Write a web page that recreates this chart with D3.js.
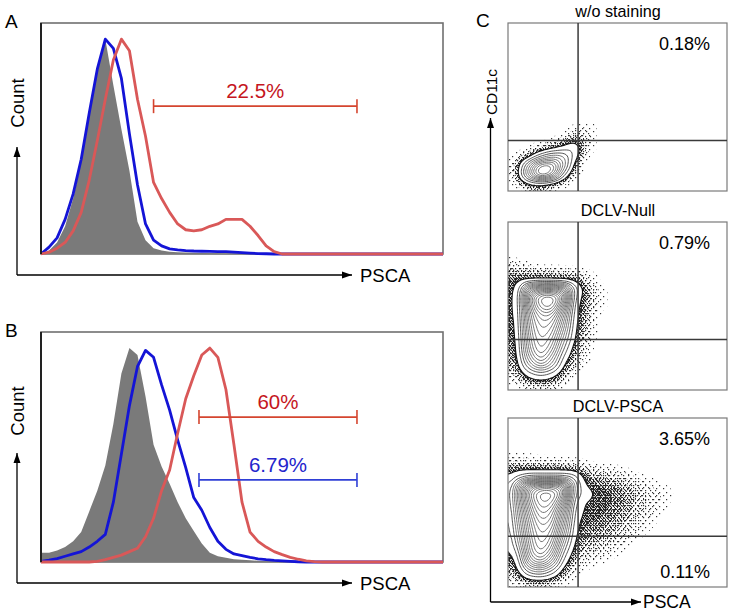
<!DOCTYPE html>
<html><head><meta charset="utf-8">
<script src="https://cdn.jsdelivr.net/npm/d3@7"></script>
<style>body{margin:0;background:#fff}svg{display:block}text{font-family:"Liberation Sans",Arial,Helvetica,sans-serif}</style>
</head><body>
<svg id="fig" width="732" height="614"></svg>
<script>
// ---------- DATA ----------
// PSCA channel (0..100), histogram counts as % of box height
const psca = d3.range(0, 101, 2);
const grayA = [0,1.5,5,12,24,40,60,79,93,73,54,36,14,6,2.5,1.5,1,0.8,0.6,0.5,0.4,0.3,0.2,0.1,0,0,0,0,0,0,0,0,0,0,0,0,0,0,0,0,0,0,0,0,0,0,0,0,0,0,0];
const blueA = [0,3,7,15,26,41,61,80,93,89,76,52,30,13,6,3.5,2.2,1.8,1.5,1.3,1.2,1.1,1,1,0.8,0.6,0.4,0.2,0.1,0,0,0,0,0,0,0,0,0,0,0,0,0,0,0,0,0,0,0,0,0,0];
const redA  = [0,0.8,2.5,5,10,18,32,49,67,84,93,88,67,51,31,24,18,13,10.5,10,10.5,12,13,15,15,15,12,8,3.5,1,0,0,0,0,0,0,0,0,0,0,0,0,0,0,0,0,0,0,0,0,0];
const grayB = [4,4,5,6.5,9,13,22,31,42,60,82,93,90,72,51,41.5,34,26,19,13.5,8,4,2.5,1.8,1.2,1,0.8,0.5,0.3,0,0,0,0,0,0,0,0,0,0,0,0,0,0,0,0,0,0,0,0,0,0];
const blueB = [0.3,0.8,1.5,2.5,3.5,4.5,6.5,9,12,26,47,68,85,92,89,77,66,53,41,28,22.5,15,9,5.5,3.5,2.8,2,1.4,1,0.7,0.5,0.3,0.1,0,0,0,0,0,0,0,0,0,0,0,0,0,0,0,0,0,0];
const redB  = [0,0,0,0,0,0,0,0.3,1,2,3,4.5,6,11,19,31,40,56,71,81,90,93,89,75,51,26,13,9,6.5,4.5,3.2,2,1.2,0.5,0.2,0,0,0,0,0,0,0,0,0,0,0,0,0,0,0,0];
// gates: [label, from, to, level, colour]
const gatesA = [["22.5%", 28, 78.6, 64, "red"]];
const gatesB = [["60%", 39.3, 78.6, 63, "red"], ["6.79%", 39.3, 78.6, 35.7, "blue"]];

// Panel C: density level grids (rows listed top = high CD11c down to 0), step 5 units
const gridNoStain = [
 [0,0,0,0,0,0,0,0.15,0],
 [0,0,0,0,0,0,0.3,0.35,0.1],
 [0,0,0,0,0.1,0.35,0.85,0.45,0],
 [0,0,0.15,0.45,0.85,1.4,1.8,0.35,0],
 [0,0.25,0.85,2.5,4,3.6,1.4,0.1,0],
 [0,0.65,4,8,8,4,0.65,0,0],
 [0,0.75,5,9,7,2,0.25,0,0],
 [0,0.35,1.1,1.3,0.8,0.25,0,0,0],
 [0,0,0.25,0.35,0.15,0,0,0,0]
];
const gridNull = [
 [0,0,0,0,0,0,0,0,0,0],
 [0.35,0.2,0.08,0,0,0,0,0,0,0],
 [0.65,0.6,0.55,0.5,0.45,0.4,0.35,0.18,0.05,0],
 [0.8,0.9,0.95,0.95,0.95,0.95,0.9,0.45,0.15,0],
 [0.85,1.1,7,9,9,8,2.2,0.7,0.25,0.05],
 [0.85,1.2,10,13.5,14,11,1.6,0.75,0.3,0.05],
 [0.85,1.2,9,13,13.5,8.5,1.3,0.7,0.2,0.05],
 [0.8,1.2,8,11,11,6.5,1.2,0.65,0.15,0],
 [0.75,1.15,7.5,10,9.5,5.5,1.1,0.55,0.1,0],
 [0.7,1.1,7,9.5,8.5,4.5,1,0.5,0.1,0],
 [0.65,1.05,6.5,9,7.5,3.5,0.9,0.4,0.05,0],
 [0.6,1,6,8.5,6.5,2.5,0.65,0.35,0,0],
 [0.55,0.9,5,7.5,5,1.6,0.55,0.25,0,0],
 [0.45,0.8,3.4,5.5,3.6,1,0.35,0.1,0,0],
 [0.25,0.55,1.5,2.1,1.5,0.6,0.15,0,0,0],
 [0.08,0.3,0.65,0.75,0.65,0.3,0,0,0,0],
 [0,0,0.12,0.15,0.12,0,0,0,0,0]
];
const gridPsca = [
 [0,0,0,0,0,0,0,0,0,0,0,0,0,0,0,0,0],
 [0.3,0.3,0.25,0.2,0.2,0.15,0.12,0.08,0,0,0,0,0,0,0,0,0],
 [0.75,0.75,0.7,0.65,0.65,0.65,0.6,0.4,0.3,0.22,0.15,0.08,0,0,0,0,0],
 [0.9,1.8,2.5,2.5,2.5,2.5,2.2,0.7,0.6,0.5,0.4,0.3,0.15,0.08,0,0,0],
 [0.9,5,10.5,12,12,11,3,0.95,0.85,0.75,0.65,0.5,0.35,0.2,0.12,0.05,0],
 [0.9,6,12.5,15,15,12,2.5,1.35,0.9,0.85,0.75,0.6,0.45,0.3,0.2,0.1,0],
 [0.9,5.5,11.5,14.5,14,9.5,1.8,0.95,0.9,0.85,0.75,0.6,0.45,0.3,0.2,0.05,0],
 [0.9,5,10.5,13.5,12.5,7.5,1.5,0.9,0.88,0.8,0.7,0.55,0.4,0.25,0.12,0,0],
 [0.85,4.5,9.5,12.5,11.5,6.5,1.3,0.85,0.82,0.75,0.6,0.5,0.3,0.18,0.05,0,0],
 [0.8,4,9,11.5,10.5,5.5,1.15,0.75,0.72,0.62,0.5,0.38,0.22,0.1,0,0,0],
 [0.75,3.5,8.5,11,9.5,4.5,1,0.65,0.6,0.5,0.38,0.25,0.12,0,0,0,0],
 [0.7,2.8,8,10.5,8.5,3.3,0.85,0.55,0.45,0.38,0.25,0.12,0,0,0,0,0],
 [0.65,1.8,7.5,9.5,7,2.2,0.65,0.4,0.32,0.25,0.12,0,0,0,0,0,0],
 [0.6,1.2,6,7.5,5,1.4,0.45,0.25,0.15,0.08,0,0,0,0,0,0,0],
 [0.45,0.9,3.2,3.8,2.4,0.75,0.25,0.1,0,0,0,0,0,0,0,0,0],
 [0.25,0.5,1,1.15,0.85,0.35,0.1,0,0,0,0,0,0,0,0,0,0],
 [0,0.1,0.2,0.2,0.1,0,0,0,0,0,0,0,0,0,0,0,0]
];
const cTitles = ["w/o staining", "DCLV-Null", "DCLV-PSCA"];
const cUpperRight = ["0.18%", "0.79%", "3.65%"];
const cLowerRight = [null, null, "0.11%"];
const gateX = 32, gateY = 30;

// ---------- DRAWING ----------
const svg = d3.select("#fig");
const defs = svg.append("defs");
defs.append("marker").attr("id","arr").attr("markerUnits","userSpaceOnUse")
  .attr("markerWidth",11).attr("markerHeight",8).attr("refX",10).attr("refY",4).attr("orient","auto")
  .append("path").attr("d","M0,0.5L10,4L0,7.5Z").attr("fill","#000");

const speckles = [
  {id:"sp1", w:7, h:7, d:[[1,2],[5,5]]},
  {id:"sp2", w:5, h:6, d:[[3,1],[0,4]]},
  {id:"sp3", w:4, h:5, d:[[1,0],[3,3]]},
  {id:"sp4", w:3, h:4, d:[[0,1],[2,3]]},
  {id:"sp5", w:3, h:3, d:[[1,2],[2,0]]},
  {id:"sp6", w:2, h:3, d:[[0,0],[1,2]]}
];
speckles.forEach(p => {
  const pat = defs.append("pattern").attr("id",p.id).attr("patternUnits","userSpaceOnUse")
    .attr("width",p.w).attr("height",p.h);
  p.d.forEach(([a,b]) => pat.append("rect").attr("x",a).attr("y",b).attr("width",1.2).attr("height",1.2)
    .attr("fill","#111").attr("opacity",0.85));
});

function arrowAxes(x0, y0, xEnd, yEnd) {
  svg.append("line").attr("x1",x0).attr("y1",y0).attr("x2",x0).attr("y2",yEnd)
    .attr("stroke","#000").attr("stroke-width",1.3).attr("marker-end","url(#arr)");
  svg.append("line").attr("x1",x0).attr("y1",y0).attr("x2",xEnd).attr("y2",y0)
    .attr("stroke","#000").attr("stroke-width",1.3).attr("marker-end","url(#arr)");
}

function histPanel(cfg) {
  const x = d3.scaleLinear([0,100],[41,443]);
  const y = d3.scaleLinear([0,100],[cfg.bottom, cfg.top]);
  const g = svg.append("g");
  g.append("rect").attr("x",41).attr("y",cfg.top).attr("width",402).attr("height",cfg.bottom-cfg.top)
    .attr("fill","#fff").attr("stroke","#707070").attr("stroke-width",1.6);
  const area = d3.area().x((d,i)=>x(psca[i])).y0(y(0)).y1(d=>y(d));
  g.append("path").datum(cfg.gray).attr("d",area).attr("fill","#7a7a7a");
  const line = d3.line().x((d,i)=>x(psca[i])).y(d=>y(d));
  g.append("path").datum(cfg.blue).attr("d",line).attr("fill","none").attr("stroke","#1414d6").attr("stroke-width",2.8).attr("stroke-linejoin","round");
  g.append("path").datum(cfg.red).attr("d",line).attr("fill","none").attr("stroke","#d95858").attr("stroke-width",2.8).attr("stroke-linejoin","round");
  g.append("line").attr("x1",41).attr("x2",41).attr("y1",cfg.top).attr("y2",cfg.bottom).attr("stroke","#222").attr("stroke-width",2);
  const col = {red:{bar:"#d5452f", text:"#c5161e"}, blue:{bar:"#2f3fd6", text:"#2424cc"}};
  cfg.gates.forEach(([lab, a, b, lvl, c]) => {
    const yy = y(lvl);
    g.append("line").attr("x1",x(a)).attr("x2",x(b)).attr("y1",yy).attr("y2",yy).attr("stroke",col[c].bar).attr("stroke-width",1.6);
    [a,b].forEach(v => g.append("line").attr("x1",x(v)).attr("x2",x(v)).attr("y1",yy-7).attr("y2",yy+7).attr("stroke",col[c].bar).attr("stroke-width",1.6));
    g.append("text").attr("x",(x(a)+x(b))/2).attr("y",yy-8).attr("text-anchor","middle")
      .attr("font-size",20.5).attr("fill",col[c].text).text(lab);
  });
  svg.append("text").attr("x",5).attr("y",cfg.top+5).attr("font-size",19).text(cfg.letter);
  svg.append("text").attr("transform",`translate(24,${cfg.countY}) rotate(-90)`).attr("text-anchor","middle")
    .attr("font-size",18.5).text("Count");
  arrowAxes(17, cfg.axisY, 352, cfg.arrowTop);
  svg.append("text").attr("x",360).attr("y",cfg.axisY+7).attr("font-size",18.5).text("PSCA");
}

histPanel({top:23, bottom:254, gray:grayA, blue:blueA, red:redA, gates:gatesA, letter:"A", countY:103, axisY:275, arrowTop:147});
histPanel({top:332, bottom:562, gray:grayB, blue:blueB, red:redB, gates:gatesB, letter:"B", countY:411, axisY:583, arrowTop:453});

function boxBlur(src, W, H, r) {
  const tmp = new Float64Array(W*H), out = new Float64Array(W*H);
  for (let yy=0; yy<H; yy++) for (let xx=0; xx<W; xx++) {
    let s=0, n=0;
    for (let d=-r; d<=r; d++) { const q=xx+d; if (q>=0 && q<W) { s+=src[yy*W+q]; n++; } }
    tmp[yy*W+xx] = s/n;
  }
  for (let yy=0; yy<H; yy++) for (let xx=0; xx<W; xx++) {
    let s=0, n=0;
    for (let d=-r; d<=r; d++) { const q=yy+d; if (q>=0 && q<H) { s+=tmp[q*W+xx]; n++; } }
    out[yy*W+xx] = s/n;
  }
  return out;
}

function contourPanel(i, grid, top, bottom) {
  const x = d3.scaleLinear([0,100],[508,727]);
  const y = d3.scaleLinear([0,100],[bottom, top]);
  const step = 5, k = 6;
  const rows = grid.slice().reverse();
  const ny = rows.length, nx = rows[0].length;
  const W = (nx-1)*k+1, H = (ny-1)*k+1;
  let vals = new Float64Array(W*H);
  for (let j=0; j<H; j++) for (let c=0; c<W; c++) {
    const fx=c/k, fy=j/k;
    const i0=Math.min(Math.floor(fx),nx-2), j0=Math.min(Math.floor(fy),ny-2);
    const tx=fx-i0, ty=fy-j0;
    vals[j*W+c] = rows[j0][i0]*(1-tx)*(1-ty) + rows[j0][i0+1]*tx*(1-ty) + rows[j0+1][i0]*(1-tx)*ty + rows[j0+1][i0+1]*tx*ty;
  }
  vals = boxBlur(boxBlur(vals, W, H, 2), W, H, 2);
  const proj = d3.geoTransform({point(px, py){ this.stream.point(x((px-0.5)/k*step), y((py-0.5)/k*step)); }});
  const path = d3.geoPath(proj);
  const cg = d3.contours().size([W,H]);
  const cid = "clip"+i;
  defs.append("clipPath").attr("id",cid).append("rect").attr("x",508).attr("y",top).attr("width",219).attr("height",bottom-top);
  const g = svg.append("g");
  g.append("rect").attr("x",508).attr("y",top).attr("width",219).attr("height",bottom-top).attr("fill","#fff");
  const gc = g.append("g").attr("clip-path",`url(#${cid})`);
  [[0.08,"sp1"],[0.2,"sp2"],[0.35,"sp3"],[0.5,"sp4"],[0.65,"sp5"],[0.8,"sp6"]].forEach(([t,p]) => {
    gc.append("path").attr("d", path(cg.contour(vals, t))).attr("fill",`url(#${p})`);
  });
  gc.append("path").attr("d", path(cg.contour(vals, 1))).attr("fill","#fff");
  d3.range(1.7, 16, 0.7).forEach((t, n) => {
    gc.append("path").attr("d", path(cg.contour(vals, t))).attr("fill","none")
      .attr("stroke", n < 2 ? "#333" : "#5c5c5c").attr("stroke-width",0.85);
  });
  gc.append("path").attr("d", path(cg.contour(vals, 1))).attr("fill","none").attr("stroke","#111").attr("stroke-width",1.1);
  g.append("rect").attr("x",508).attr("y",top).attr("width",219).attr("height",bottom-top)
    .attr("fill","none").attr("stroke","#7a7a7a").attr("stroke-width",1.2);
  g.append("line").attr("x1",x(gateX)).attr("x2",x(gateX)).attr("y1",top).attr("y2",bottom).attr("stroke","#3a3a3a").attr("stroke-width",1.5);
  g.append("line").attr("x1",508).attr("x2",727).attr("y1",y(gateY)).attr("y2",y(gateY)).attr("stroke","#3a3a3a").attr("stroke-width",1.5);
  g.append("text").attr("x",618).attr("y",top-6).attr("text-anchor","middle").attr("font-size",16.2).text(cTitles[i]);
  g.append("text").attr("x",710).attr("y",top+27).attr("text-anchor","end").attr("font-size",18).text(cUpperRight[i]);
  if (cLowerRight[i]) g.append("text").attr("x",710).attr("y",bottom-9).attr("text-anchor","end").attr("font-size",18).text(cLowerRight[i]);
}

contourPanel(0, gridNoStain, 23, 191);
contourPanel(1, gridNull, 222, 390);
contourPanel(2, gridPsca, 418, 587);

svg.append("text").attr("x",476).attr("y",27).attr("font-size",19).text("C");
svg.append("text").attr("transform","translate(497,92) rotate(-90)").attr("text-anchor","middle").attr("font-size",15.5).text("CD11c");
arrowAxes(490.5, 602, 641, 118);
svg.append("text").attr("x",643).attr("y",608).attr("font-size",17.5).text("PSCA");
</script>
</body></html>
